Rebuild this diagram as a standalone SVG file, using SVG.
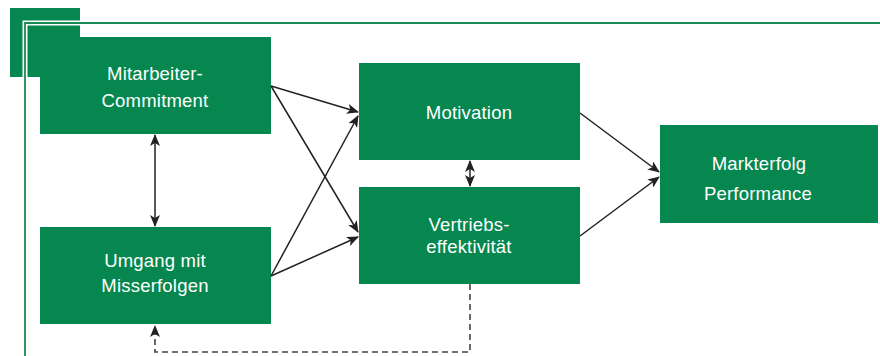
<svg xmlns="http://www.w3.org/2000/svg" width="880" height="356" viewBox="0 0 880 356">
<style>
.box{fill:#05874f}
.t{fill:#ffffff;font-family:"Liberation Sans",Arial,sans-serif;font-size:18.5px;text-anchor:middle;letter-spacing:0.2px}
.c{stroke:#222;stroke-width:1.5;fill:none}
.d{stroke:#444;stroke-width:1.6;fill:none;stroke-dasharray:6,4}
</style>
<defs>
<marker id="ah" viewBox="0 0 12 10" refX="11" refY="5" markerWidth="12" markerHeight="10" markerUnits="userSpaceOnUse" orient="auto-start-reverse">
<path d="M0,0 L12,5 L0,10 L3,5 Z" fill="#222"/>
</marker>
</defs>
<rect x="10" y="8" width="70" height="69" fill="#05874f"/>
<path d="M25,356 V23 H880" fill="none" stroke="#fff" stroke-width="5"/>
<path d="M25,356 V23 H880" fill="none" stroke="#1a8a55" stroke-width="1.8"/>
<g id="mitarbeiter"><rect class="box" x="40" y="37" width="231" height="97"/><text class="t" x="155" y="80">Mitarbeiter-</text><text class="t" x="155" y="107">Commitment</text></g>
<g id="umgang"><rect class="box" x="40" y="227" width="231" height="97"/><text class="t" x="155" y="267">Umgang mit</text><text class="t" x="155" y="292">Misserfolgen</text></g>
<g id="motivation"><rect class="box" x="359" y="63" width="221" height="97"/><text class="t" x="469" y="119">Motivation</text></g>
<g id="vertrieb"><rect class="box" x="359" y="187" width="221" height="97"/><text class="t" x="469" y="231">Vertriebs-</text><text class="t" x="469" y="253">effektivität</text></g>
<g id="markterfolg"><rect class="box" x="660" y="125" width="218" height="98"/><text class="t" x="759" y="170">Markterfolg</text><text class="t" x="758" y="200">Performance</text></g>
<g id="connectors">
<line class="c" x1="271" y1="86" x2="358" y2="112" marker-end="url(#ah)"/>
<line class="c" x1="271" y1="86" x2="358" y2="232" marker-end="url(#ah)"/>
<line class="c" x1="271" y1="276" x2="358" y2="116" marker-end="url(#ah)"/>
<line class="c" x1="271" y1="276" x2="358" y2="237" marker-end="url(#ah)"/>
<line class="c" x1="580" y1="113" x2="659" y2="172" marker-end="url(#ah)"/>
<line class="c" x1="580" y1="236" x2="659" y2="177" marker-end="url(#ah)"/>
<line class="c" x1="155" y1="135" x2="155" y2="226" marker-start="url(#ah)" marker-end="url(#ah)"/>
<line class="c" x1="470" y1="161" x2="470" y2="186" marker-start="url(#ah)" marker-end="url(#ah)"/>
<path class="d" d="M470,284 V352 H155 V326" marker-end="url(#ah)"/>
</g>
</svg>
